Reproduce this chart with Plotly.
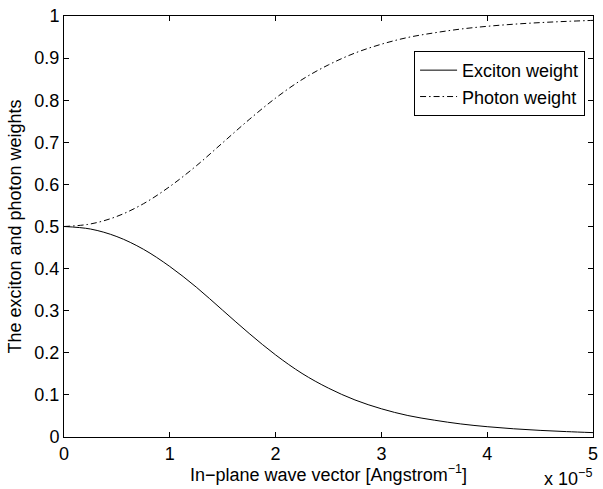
import plotly.graph_objects as go

# In-plane wave vector, in units of 1e-5 Angstrom^-1
k_1e5 = [0.0, 0.25, 0.5, 0.75, 1.0, 1.25, 1.5, 1.75, 2.0, 2.25, 2.5,
         2.75, 3.0, 3.25, 3.5, 3.75, 4.0, 4.25, 4.5, 4.75, 5.0]
exciton_weight = [0.500, 0.494, 0.476, 0.446, 0.405, 0.356, 0.301, 0.246,
                  0.195, 0.151, 0.116, 0.088, 0.067, 0.051, 0.040, 0.031,
                  0.0245, 0.0195, 0.0157, 0.0128, 0.0104]
photon_weight = [0.500, 0.506, 0.524, 0.554, 0.595, 0.644, 0.699, 0.754,
                 0.805, 0.849, 0.884, 0.912, 0.933, 0.949, 0.960, 0.969,
                 0.9755, 0.9805, 0.9843, 0.9872, 0.9896]
x_ticks = [0, 1, 2, 3, 4, 5]
y_ticks = [0, 0.1, 0.2, 0.3, 0.4, 0.5, 0.6, 0.7, 0.8, 0.9, 1]
y_tick_labels = ["0", "0.1", "0.2", "0.3", "0.4", "0.5", "0.6", "0.7", "0.8", "0.9", "1"]

FONT = "Liberation Sans, Arial, Helvetica, sans-serif"
FS = 18

fig = go.Figure()
fig.add_trace(go.Scatter(x=k_1e5, y=exciton_weight, mode="lines",
                         name="Exciton weight",
                         line=dict(color="black", width=1, shape="spline")))
fig.add_trace(go.Scatter(x=k_1e5, y=photon_weight, mode="lines",
                         name="Photon weight",
                         line=dict(color="black", width=1, shape="spline",
                                   dash="6px,3px,1.5px,3px")))

axis_common = dict(showline=True, linecolor="black", linewidth=1, mirror="ticks",
                   ticks="inside", ticklen=5, tickcolor="black", tickwidth=1,
                   showgrid=False, zeroline=False, ticklabeloverflow="allow",
                   tickfont=dict(family=FONT, size=FS, color="black"))

fig.update_layout(
    width=603, height=489,
    margin=dict(l=64, r=5, t=16, b=52),
    paper_bgcolor="white", plot_bgcolor="white",
    font=dict(family=FONT, size=FS, color="black"),
    showlegend=True,
    legend=dict(x=0.985, xanchor="right", y=0.917, yanchor="top",
                bordercolor="black", borderwidth=1, bgcolor="white",
                itemwidth=37,
                font=dict(family=FONT, size=FS, color="black")),
    xaxis=dict(range=[0, 5], tickvals=x_ticks, ticktext=[str(t) for t in x_ticks],
               **axis_common),
    yaxis=dict(range=[0, 1], tickvals=y_ticks, ticktext=y_tick_labels,
               title=dict(text="The exciton and photon weights",
                          font=dict(family=FONT, size=FS), standoff=8),
               **axis_common),
)

# x-axis title placed as an annotation for precise vertical placement
fig.add_annotation(text="In\u2212plane wave vector [Angstrom<sup>\u22121</sup>]",
                   xref="paper", yref="paper", x=0.5, y=0,
                   xanchor="center", yanchor="middle", yshift=-36,
                   borderpad=0, showarrow=False,
                   font=dict(family=FONT, size=FS, color="black"))

fig.add_annotation(text="x 10<sup>\u22125</sup>", xref="paper", yref="paper",
                   x=1.0, y=0, xanchor="right", yanchor="bottom", yshift=-53,
                   borderpad=0, showarrow=False,
                   font=dict(family=FONT, size=FS, color="black"))

fig.write_html("out.html")
